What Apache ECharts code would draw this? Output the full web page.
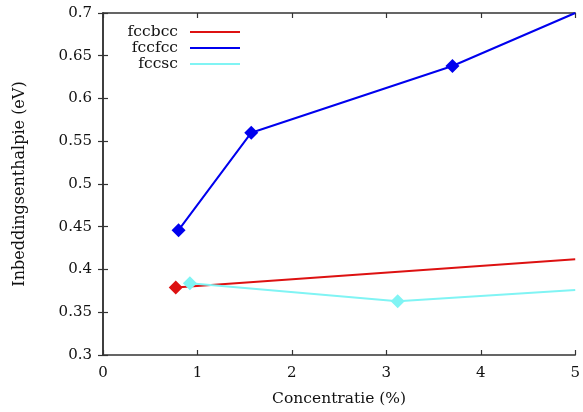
<!DOCTYPE html>
<html>
<head>
<meta charset="utf-8">
<script src="https://cdn.jsdelivr.net/npm/echarts@6/dist/echarts.min.js"></script>
<style>
  html, body { margin: 0; padding: 0; background: #fff; }
  #chart { width: 583px; height: 412px; }
</style>
</head>
<body>
<div id="chart"></div>
<script>
// Embedding enthalpy versus concentration for three configurations
const seriesNames = ['fccbcc', 'fccfcc', 'fccsc'];

const fccbccX = [0.77, 5.0];
const fccbccY = [0.379, 0.412];

const fccfccX = [0.80, 1.57, 3.70, 5.0];
const fccfccY = [0.446, 0.560, 0.638, 0.700];

const fccscX = [0.92, 3.12, 5.0];
const fccscY = [0.384, 0.363, 0.376];

const xTicks = [0, 1, 2, 3, 4, 5];
const yTicks = [0.3, 0.35, 0.4, 0.45, 0.5, 0.55, 0.6, 0.65, 0.7];

const colors = ['#dd1111', '#0000ee', '#80f4f4'];
const FONT = 'DejaVu Serif';
const TEXT = '#111';

// Last point of every curve lies on the right frame edge and carries no marker
function points(xs, ys) {
  return xs.map((x, i) => i === xs.length - 1
    ? { value: [x, ys[i]], symbol: 'none' }
    : [x, ys[i]]);
}

const axisLine = { show: true, lineStyle: { color: '#333', width: 1.5 } };
const axisTick = { show: true, inside: true, length: 5, lineStyle: { color: '#333', width: 1.2 } };

const chart = echarts.init(document.getElementById('chart'), null, { renderer: 'canvas' });
chart.setOption({
  animation: false,
  backgroundColor: '#fff',
  grid: { left: 103, right: 7, top: 13, bottom: 56 },
  legend: {
    right: 338,
    top: 19,
    orient: 'vertical',
    align: 'right',
    itemWidth: 50,
    itemHeight: 2,
    itemGap: 0,
    icon: 'rect',
    textStyle: { fontFamily: FONT, fontSize: 15.5, color: TEXT, padding: [0, 7, 0, 0] },
    data: seriesNames
  },
  xAxis: [
    {
      type: 'value', min: xTicks[0], max: xTicks[xTicks.length - 1], interval: 1,
      name: 'Concentratie (%)', nameLocation: 'middle', nameGap: 36,
      nameTextStyle: { fontFamily: FONT, fontSize: 15.5, color: TEXT },
      axisLine, axisTick,
      axisLabel: { fontFamily: FONT, fontSize: 15, color: TEXT, margin: 11 },
      splitLine: { show: false }
    },
    {
      type: 'value', position: 'top', min: xTicks[0], max: xTicks[xTicks.length - 1], interval: 1,
      axisLine, axisTick, axisLabel: { show: false }, splitLine: { show: false }
    }
  ],
  yAxis: [
    {
      type: 'value', min: yTicks[0], max: yTicks[yTicks.length - 1], interval: 0.05,
      name: 'Inbeddingsenthalpie (eV)', nameLocation: 'middle', nameGap: 75,
      nameTextStyle: { fontFamily: FONT, fontSize: 16, color: TEXT },
      axisLine, axisTick,
      axisLabel: {
        fontFamily: FONT, fontSize: 15, color: TEXT, margin: 11,
        formatter: v => String(Math.round(v * 100) / 100)
      },
      splitLine: { show: false }
    },
    {
      type: 'value', position: 'right', min: yTicks[0], max: yTicks[yTicks.length - 1], interval: 0.05,
      axisLine, axisTick, axisLabel: { show: false }, splitLine: { show: false }
    }
  ],
  series: [
    { name: seriesNames[0], type: 'line', data: points(fccbccX, fccbccY) },
    { name: seriesNames[1], type: 'line', data: points(fccfccX, fccfccY) },
    { name: seriesNames[2], type: 'line', data: points(fccscX, fccscY) }
  ].map((s, i) => Object.assign(s, {
    color: colors[i],
    symbol: 'diamond',
    symbolSize: 14,
    showSymbol: true,
    clip: true,
    lineStyle: { width: 2, color: colors[i] },
    itemStyle: { color: colors[i] }
  }))
});
</script>
</body>
</html>
